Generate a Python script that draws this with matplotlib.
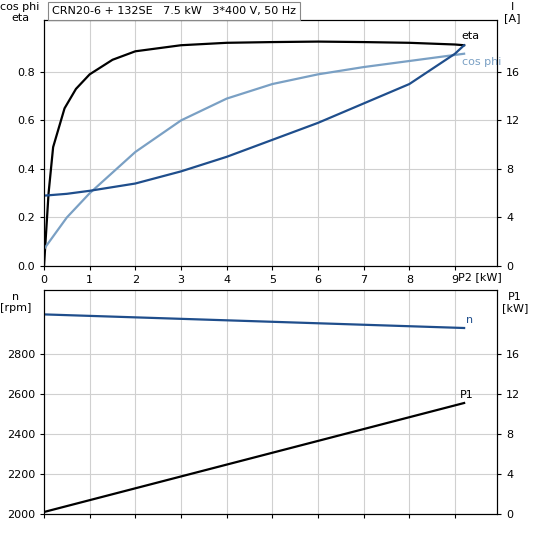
import numpy as np
import matplotlib.pyplot as plt

# Top panel data
p2_eta = [0, 0.1, 0.2, 0.45, 0.7, 1.0, 1.5, 2, 3, 4, 5, 6, 7, 8, 9, 9.2]
eta = [0, 0.3, 0.49, 0.65, 0.73, 0.79, 0.85, 0.885, 0.91, 0.92, 0.923, 0.925, 0.923, 0.92, 0.913, 0.91]
p2 = [0, 0.5, 1, 2, 3, 4, 5, 6, 7, 8, 9, 9.2]
cosphi = [0.07, 0.2, 0.3, 0.47, 0.6, 0.69, 0.75, 0.79, 0.82, 0.845, 0.87, 0.875]
current = [5.8, 5.95, 6.2, 6.8, 7.8, 9.0, 10.4, 11.8, 13.4, 15.0, 17.5, 18.2]
# Bottom panel data
p2_b = [0, 9.2]
speed = [2998, 2930]
p1 = [0.2, 11.1]

grid_c = '#d0d0d0'
dark = '#1f4e8c'
light = '#7aa0c4'

fig = plt.figure(figsize=(5.33, 5.33), dpi=100)
ax1 = fig.add_axes([44/533, 1-266/533, 453/533, 246/533])
ax2 = fig.add_axes([44/533, 1-514/533, 453/533, 224/533])

for ax in (ax1, ax2):
    ax.set_xlim(0, 9.92)
    ax.set_xticks(range(10))
    ax.grid(color=grid_c, linewidth=0.8)
    ax.tick_params(labelsize=8, length=3)

ax1.set_ylim(0, 1.014)
ax1.set_yticks([0, 0.2, 0.4, 0.6, 0.8])
ax1.set_yticklabels(['0.0', '0.2', '0.4', '0.6', '0.8'])
ax1.plot(p2_eta, eta, color='black', lw=1.6)
ax1.plot(p2, cosphi, color=light, lw=1.6)
ax1r = ax1.twinx()
ax1r.set_ylim(0, 20.28)
ax1r.set_yticks([0, 4, 8, 12, 16])
ax1r.tick_params(labelsize=8, length=3)
ax1r.plot(p2, current, color=dark, lw=1.6)
ax1.text(9.15, 0.935, 'eta', fontsize=8, color='black')
ax1.text(9.15, 0.83, 'cos phi', fontsize=8, color=light)
ax1.set_xticklabels(['0', '1', '2', '3', '4', '5', '6', '7', '8', '9'])
ax1.text(9.55, -0.025, 'P2 [kW]', fontsize=8, ha='center', va='top')
fig.text(20/533, 1-2/533, 'cos phi\neta', fontsize=8, ha='center', va='top', linespacing=1.1)
fig.text(512/533, 1-2/533, 'I\n[A]', fontsize=8, ha='center', va='top', linespacing=1.1)
fig.text(52/533, 1-11/533, 'CRN20-6 + 132SE   7.5 kW   3*400 V, 50 Hz',
         fontsize=8, va='center', bbox=dict(facecolor='white', edgecolor='#888888', lw=0.8, pad=3))

ax2.set_ylim(2000, 3120)
ax2.set_yticks([2000, 2200, 2400, 2600, 2800])
ax2.set_xticklabels([])
ax2.plot(p2_b, speed, color=dark, lw=1.6)
ax2r = ax2.twinx()
ax2r.set_ylim(0, 22.4)
ax2r.set_yticks([0, 4, 8, 12, 16])
ax2r.tick_params(labelsize=8, length=3)
ax2r.plot(p2_b, p1, color='black', lw=1.6)
ax2.text(9.25, 2945, 'n', fontsize=8, color=dark, va='bottom')
ax2r.text(9.1, 11.4, 'P1', fontsize=8, color='black', va='bottom')
fig.text(16/533, 1-292/533, 'n\n[rpm]', fontsize=8, ha='center', va='top', linespacing=1.1)
fig.text(515/533, 1-292/533, 'P1\n[kW]', fontsize=8, ha='center', va='top', linespacing=1.1)

fig.savefig('out.png', dpi=100)
